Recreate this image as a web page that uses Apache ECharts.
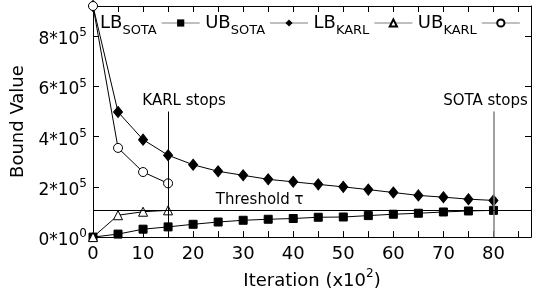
<!DOCTYPE html>
<html>
<head>
<meta charset="utf-8">
<script src="https://cdn.jsdelivr.net/npm/echarts@6/dist/echarts.min.js"></script>
<style>html,body{margin:0;padding:0;background:#fff}#c{width:542px;height:295px}</style>
</head>
<body>
<div id="c"></div>
<script>
const iterations = [0,5,10,15,20,25,30,35,40,45,50,55,60,65,70,75,80];
const lbSota = [0,12000,31500,40600,51000,60000,67000,71000,74000,79000,80000,85600,91000,95000,100000,104000,106500];
const ubSota = [920000,498000,388000,326000,288000,262000,246000,230000,220000,210000,200000,189000,177500,166000,159000,151000,146000];
const karlIterations = [0,5,10,15];
const lbKarl = [0,87000,101000,106500];
const ubKarl = [920000,355000,259000,214000];
const threshold = 107000;
const seriesNames = ['LB_SOTA','UB_SOTA','LB_KARL','UB_KARL'];
const xLabelTicks = [0,10,20,30,40,50,60,70,80];
const yLabelTicks = [0,200000,400000,600000,800000];

const FONT = 'DejaVu Sans';
const zip = (xs, ys) => xs.map((x, i) => [x, ys[i]]);

const chart = echarts.init(document.getElementById('c'), null, {renderer: 'canvas'});
const supRich = {
  m: {fontFamily: FONT, fontSize: 17, color: '#000', lineHeight: 18, padding: [4,0,0,0], verticalAlign: 'top'},
  s: {fontFamily: FONT, fontSize: 12, color: '#000', lineHeight: 12, verticalAlign: 'top'}
};
const nameRich = {
  m: {fontFamily: FONT, fontSize: 18, color: '#000', lineHeight: 19, padding: [4,0,0,0], verticalAlign: 'top'},
  s: {fontFamily: FONT, fontSize: 12, color: '#000', lineHeight: 12, verticalAlign: 'top'}
};
const subRich = {
  m: {fontFamily: FONT, fontSize: 18, color: '#000', lineHeight: 18, verticalAlign: 'top'},
  s: {fontFamily: FONT, fontSize: 13, color: '#000', lineHeight: 13, padding: [10,0,0,0], verticalAlign: 'top'}
};
const axisBase = {
  type: 'value',
  splitLine: {show: false},
  axisLine: {show: true, onZero: false, lineStyle: {color: '#000', width: 1}},
  axisTick: {show: true, inside: true, length: 6, lineStyle: {color: '#000', width: 1}}
};
const lineStyle = {color: '#000', width: 1};

const option = {
  animation: false,
  textStyle: {fontFamily: FONT},
  grid: {left: 93, right: 11, top: 6, bottom: 56, containLabel: false},
  legend: {
    data: seriesNames,
    left: 95, top: 9,
    align: 'right',
    itemWidth: 38, itemHeight: 9, itemGap: 5,
    lineStyle: {color: '#808080', width: 1},
    formatter: n => { const p = n.split('_'); return '{m|' + p[0] + '}{s|' + p[1] + '}'; },
    textStyle: {rich: subRich, padding: [0,0,0,0]}
  },
  xAxis: [
    Object.assign({}, axisBase, {
      position: 'bottom', min: 0, max: 87.5, interval: 5,
      name: '{m|Iteration (x10}{s|2}{m|)}', nameLocation: 'middle', nameGap: 27,
      nameTextStyle: {rich: nameRich},
      axisLabel: {fontFamily: FONT, fontSize: 18, color: '#000', margin: 8,
        formatter: v => xLabelTicks.includes(v) ? String(v) : ''}
    }),
    Object.assign({}, axisBase, {
      position: 'top', min: 0, max: 87.5, interval: 5, axisLabel: {show: false}
    })
  ],
  yAxis: [
    Object.assign({}, axisBase, {
      position: 'left', min: 0, max: 920000, interval: 200000,
      name: 'Bound Value', nameLocation: 'middle', nameGap: 60,
      nameTextStyle: {fontFamily: FONT, fontSize: 18, color: '#000'},
      axisLabel: {margin: 6, rich: supRich,
        formatter: v => {
          if (!yLabelTicks.includes(v)) return '';
          if (v === 0) return '{m|0*10}{s|0}';
          return '{m|' + (v / 100000) + '*10}{s|5}';
        }}
    }),
    Object.assign({}, axisBase, {
      position: 'right', min: 0, max: 920000, interval: 200000, axisLabel: {show: false}
    })
  ],
  series: [
    {
      name: 'LB_SOTA', type: 'line', data: zip(iterations, lbSota),
      symbol: 'rect', symbolSize: 8, lineStyle,
      itemStyle: {color: '#000', borderColor: '#000'},
      markLine: {
        silent: true, symbol: ['none','none'], label: {show: false},
        data: [
          [{coord: [15, 0], lineStyle: {color: '#000', width: 1, type: 'solid'}}, {coord: [15, 500000]}],
          [{coord: [80, 0], lineStyle: {color: '#808080', width: 1.5, type: 'solid'}}, {coord: [80, 500000]}],
          {yAxis: threshold, lineStyle: {color: '#000', width: 1, type: 'solid'}}
        ]
      },
      markPoint: {
        silent: true, symbol: 'rect', symbolSize: 0,
        label: {show: true, position: 'top', distance: 3, formatter: '{b}', color: '#000', fontFamily: FONT, fontSize: 15},
        data: [
          {name: 'KARL stops', coord: [18.2, 500000]},
          {name: 'SOTA stops', coord: [78.4, 500000]},
          {name: 'Threshold τ', coord: [33.3, threshold]}
        ]
      }
    },
    {
      name: 'UB_SOTA', type: 'line', data: zip(iterations, ubSota),
      symbol: 'diamond', symbolSize: [9, 11], lineStyle,
      itemStyle: {color: '#000', borderColor: '#000'}
    },
    {
      name: 'LB_KARL', type: 'line', data: zip(karlIterations, lbKarl),
      symbol: 'triangle', symbolSize: 9, lineStyle,
      itemStyle: {color: '#fff', borderColor: '#000', borderWidth: 1}
    },
    {
      name: 'UB_KARL', type: 'line', data: zip(karlIterations, ubKarl),
      symbol: 'circle', symbolSize: 9, lineStyle,
      itemStyle: {color: '#fff', borderColor: '#000', borderWidth: 1}
    }
  ]
};
chart.setOption(option);
</script>
</body>
</html>
